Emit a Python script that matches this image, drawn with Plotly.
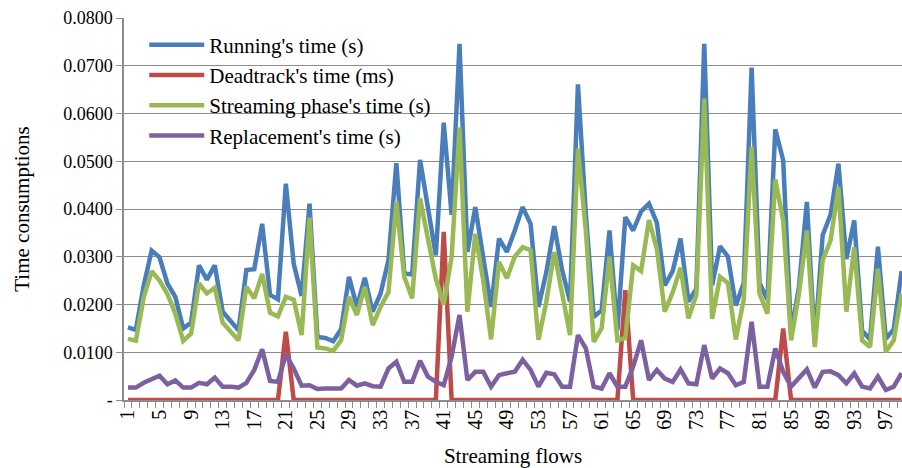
import plotly.graph_objects as go

flows = list(range(1, 100))

running = [0.0152, 0.0147, 0.0240, 0.0313, 0.0299, 0.0244, 0.0216, 0.0150, 0.0162, 0.0282,
           0.0252, 0.0282, 0.0185, 0.0167, 0.0146, 0.0272, 0.0274, 0.0369, 0.0220, 0.0211,
           0.0453, 0.0285, 0.0218, 0.0411, 0.0132, 0.0130, 0.0123, 0.0148, 0.0258, 0.0195,
           0.0256, 0.0185, 0.0223, 0.0293, 0.0496, 0.0265, 0.0263, 0.0503, 0.0401, 0.0303,
           0.0581, 0.0388, 0.0746, 0.0310, 0.0404, 0.0298, 0.0195, 0.0338, 0.0310, 0.0355,
           0.0404, 0.0369, 0.0195, 0.0268, 0.0364, 0.0272, 0.0206, 0.0661, 0.0390, 0.0174,
           0.0188, 0.0355, 0.0146, 0.0383, 0.0355, 0.0395, 0.0411, 0.0371, 0.0240, 0.0270,
           0.0338, 0.0206, 0.0233, 0.0746, 0.0240, 0.0322, 0.0300, 0.0198, 0.0245, 0.0696,
           0.0245, 0.0210, 0.0567, 0.0502, 0.0139, 0.0237, 0.0415, 0.0120, 0.0345, 0.0388,
           0.0495, 0.0295, 0.0376, 0.0145, 0.0127, 0.0321, 0.0128, 0.0148, 0.0270]

deadtrack = [0.0] * 99
deadtrack_peaks = {21: 0.0143, 41: 0.0352, 64: 0.0230, 84: 0.0150}
for k, v in deadtrack_peaks.items():
    deadtrack[k - 1] = v

streaming = [0.0128, 0.0124, 0.0215, 0.0270, 0.0250, 0.0222, 0.0181, 0.0124, 0.0139, 0.0244,
             0.0223, 0.0235, 0.0162, 0.0143, 0.0125, 0.0237, 0.0213, 0.0264, 0.0183, 0.0175,
             0.0216, 0.0210, 0.0136, 0.0382, 0.0110, 0.0108, 0.0103, 0.0125, 0.0216, 0.0178,
             0.0237, 0.0157, 0.0195, 0.0226, 0.0415, 0.0258, 0.0213, 0.0422, 0.0334, 0.0254,
             0.0200, 0.0300, 0.0571, 0.0185, 0.0348, 0.0251, 0.0127, 0.0289, 0.0255, 0.0300,
             0.0320, 0.0314, 0.0126, 0.0206, 0.0310, 0.0223, 0.0136, 0.0526, 0.0355, 0.0122,
             0.0150, 0.0300, 0.0125, 0.0130, 0.0282, 0.0270, 0.0377, 0.0316, 0.0185, 0.0225,
             0.0277, 0.0171, 0.0220, 0.0631, 0.0170, 0.0258, 0.0245, 0.0127, 0.0210, 0.0530,
             0.0223, 0.0181, 0.0462, 0.0376, 0.0125, 0.0223, 0.0355, 0.0111, 0.0293, 0.0334,
             0.0446, 0.0185, 0.0320, 0.0125, 0.0111, 0.0275, 0.0101, 0.0125, 0.0223]

replacement = [0.0026, 0.0026, 0.0036, 0.0043, 0.0051, 0.0033, 0.0041, 0.0026, 0.0026, 0.0036,
               0.0033, 0.0047, 0.0028, 0.0028, 0.0026, 0.0036, 0.0063, 0.0106, 0.0040, 0.0038,
               0.0095, 0.0066, 0.0030, 0.0031, 0.0023, 0.0024, 0.0023, 0.0024, 0.0042, 0.0030,
               0.0035, 0.0029, 0.0028, 0.0066, 0.0080, 0.0038, 0.0038, 0.0082, 0.0049, 0.0038,
               0.0031, 0.0091, 0.0178, 0.0042, 0.0059, 0.0059, 0.0028, 0.0052, 0.0056, 0.0059,
               0.0084, 0.0063, 0.0028, 0.0057, 0.0054, 0.0028, 0.0028, 0.0136, 0.0108, 0.0028,
               0.0024, 0.0056, 0.0028, 0.0028, 0.0070, 0.0125, 0.0042, 0.0063, 0.0045, 0.0038,
               0.0064, 0.0035, 0.0033, 0.0115, 0.0045, 0.0066, 0.0056, 0.0031, 0.0038, 0.0164,
               0.0028, 0.0028, 0.0108, 0.0059, 0.0028, 0.0045, 0.0064, 0.0026, 0.0059, 0.0060,
               0.0052, 0.0035, 0.0056, 0.0028, 0.0024, 0.0049, 0.0021, 0.0028, 0.0056]

series_names = ["Running's time (s)", "Deadtrack's time (ms)",
                "Streaming phase's time (s)", "Replacement's time (s)"]
series_colors = ["#4A7EBB", "#BE4B48", "#98B954", "#7D60A0"]

x_tick_vals = list(range(1, 100, 4))
x_tick_text = [str(v) for v in x_tick_vals]
y_tick_vals = [0, 0.01, 0.02, 0.03, 0.04, 0.05, 0.06, 0.07, 0.08]
y_tick_text = ["-", "0.0100", "0.0200", "0.0300", "0.0400", "0.0500", "0.0600", "0.0700", "0.0800"]

FONT = "'Liberation Serif', 'Times New Roman', serif"
GRAY = "#8C8C8C"

fig = go.Figure()
for i, (name, ys, col) in enumerate(zip(series_names, [running, deadtrack, streaming, replacement], series_colors)):
    fig.add_trace(go.Scatter(x=flows, y=ys, mode="lines", name=name,
                             legendgroup=f"g{i}",
                             line=dict(color=col, width=4.5)))

fig.update_layout(
    width=902, height=468,
    margin=dict(l=124, r=0, t=18, b=68, autoexpand=False),
    paper_bgcolor="white", plot_bgcolor="white",
    font=dict(family=FONT, size=18, color="black"),
    showlegend=True,
    legend=dict(x=0.026, y=0.983, xanchor="left", yanchor="top",
                bgcolor="rgba(0,0,0,0)", font=dict(family=FONT, size=21),
                traceorder="grouped", tracegroupgap=0, itemwidth=55),
    xaxis=dict(range=[0.5, 99.05], tickmode="array", tickvals=x_tick_vals, ticktext=x_tick_text,
               tickangle=-90, ticks="", showgrid=False, zeroline=False, automargin=False,
               showline=True, linecolor=GRAY, linewidth=1.5,
               minor=dict(tickmode="linear", tick0=0.5, dtick=1, ticks="outside",
                          ticklen=6, tickcolor=GRAY, tickwidth=1, showgrid=False),
               title=dict(text="Streaming flows", font=dict(family=FONT, size=21), standoff=20),
               tickfont=dict(family=FONT, size=20)),
    yaxis=dict(range=[0, 0.08], tickmode="array", tickvals=y_tick_vals, ticktext=y_tick_text,
               ticks="outside", ticklen=6, tickcolor=GRAY, tickwidth=1, automargin=False,
               showgrid=True, gridcolor=GRAY, gridwidth=1.2, zeroline=False,
               showline=True, linecolor=GRAY, linewidth=1.5,
               title=dict(text="Time consumptions", font=dict(family=FONT, size=21), standoff=28),
               tickfont=dict(family=FONT, size=18)),
)

fig.write_html("out.html", config={"displayModeBar": False},
               post_script="document.body.style.margin='0';")
